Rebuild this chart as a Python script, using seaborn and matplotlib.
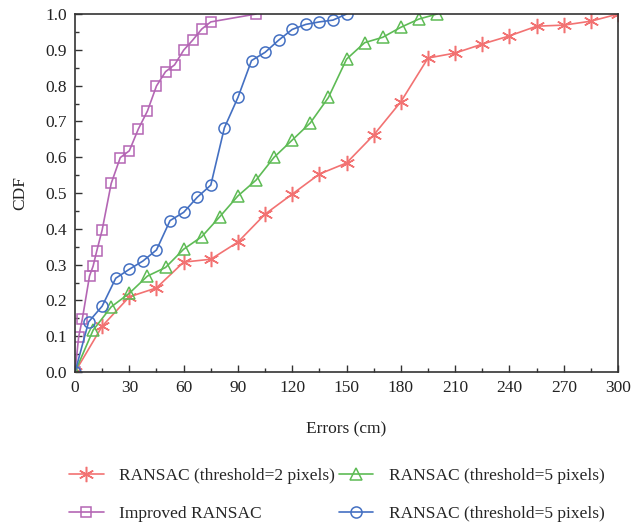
import numpy as np
import pandas as pd
import seaborn as sns
import matplotlib.pyplot as plt
from matplotlib.ticker import MultipleLocator

# data
x_t2 = [0, 15, 30, 45, 60, 75, 90, 105, 120, 135, 150, 165, 180, 195, 210, 225, 240, 255, 270, 285, 300]
cdf_t2 = [0, 0.128, 0.21, 0.235, 0.307, 0.315, 0.363, 0.441, 0.497, 0.553, 0.584, 0.662, 0.755, 0.877,
          0.891, 0.916, 0.939, 0.966, 0.969, 0.98, 1.0]

x_imp = [0, 2, 4, 8, 10, 12, 15, 20, 25, 30, 35, 40, 45, 50, 55, 60, 65, 70, 75, 100]
cdf_imp = [0, 0.098, 0.147, 0.268, 0.296, 0.338, 0.397, 0.527, 0.599, 0.618, 0.679, 0.729, 0.799, 0.839,
           0.858, 0.899, 0.927, 0.958, 0.978, 1.0]

x_t5 = [0, 10, 20, 30, 40, 50, 60, 70, 80, 90, 100, 110, 120, 130, 140, 150, 160, 170, 180, 190, 200]
cdf_t5 = [0, 0.117, 0.182, 0.22, 0.268, 0.292, 0.343, 0.378, 0.434, 0.492, 0.536, 0.6, 0.648, 0.696,
          0.767, 0.874, 0.92, 0.935, 0.963, 0.986, 1.0]

x_t5b = [0, 7.5, 15, 22.5, 30, 37.5, 45, 52.5, 60, 67.5, 75, 82.5, 90, 97.5, 105, 112.5, 120, 127.5,
         135, 142.5, 150]
cdf_t5b = [0, 0.14, 0.184, 0.262, 0.287, 0.31, 0.341, 0.423, 0.446, 0.488, 0.522, 0.682, 0.767, 0.87,
           0.893, 0.927, 0.957, 0.971, 0.978, 0.983, 1.0]

series = [
    ("RANSAC (threshold=2 pixels)", x_t2, cdf_t2, "#F27272", (6, 2, 0), 11),
    ("Improved RANSAC", x_imp, cdf_imp, "#B466B4", "s", 7.5),
    ("RANSAC (threshold=5 pixels)", x_t5, cdf_t5, "#5EBB55", "^", 9),
    ("RANSAC (threshold=5 pixels)", x_t5b, cdf_t5b, "#4470C2", "o", 8),
]

sns.set_theme(style="ticks")
plt.rcParams['font.family'] = ['Liberation Serif', 'DejaVu Serif']
plt.rcParams['font.size'] = 12

fig = plt.figure(figsize=(6.32, 5.25), dpi=100)
ax = fig.add_axes([0.1187, 0.2914, 0.8593, 0.6819])

for label, xs, ys, color, marker, ms in series:
    df = pd.DataFrame({"err": xs, "cdf": ys})
    sns.lineplot(data=df, x="err", y="cdf", ax=ax, color=color, marker=marker,
                 markersize=ms, markerfacecolor="none", markeredgecolor=color,
                 markeredgewidth=1.1, linewidth=1.2, label=label)

ax.set_xlim(0, 300)
ax.set_ylim(0, 1.0)
ax.xaxis.set_major_locator(MultipleLocator(30))
ax.xaxis.set_minor_locator(MultipleLocator(15))
ax.yaxis.set_major_locator(MultipleLocator(0.1))
ax.yaxis.set_minor_locator(MultipleLocator(0.05))
ax.set_yticklabels([f"{v:.1f}" for v in ax.get_yticks()])
ax.tick_params(which="both", direction="in", color="#333333", labelsize=12.5, labelcolor="#222222")
ax.tick_params(which="major", length=5, width=1.0, pad=6)
ax.tick_params(which="minor", length=3, width=1.0)
for sp in ax.spines.values():
    sp.set_visible(True)
    sp.set_color("#333333")
    sp.set_linewidth(1.2)

ax.set_xlabel("Errors (cm)", fontsize=12.5, color="#222222", labelpad=18)
ax.set_ylabel("CDF", fontsize=12.5, color="#222222", labelpad=12)

ax.legend(loc="upper left", bbox_to_anchor=(-0.04, -0.225), ncol=2, frameon=False,
          fontsize=12.5, handlelength=2.0, columnspacing=0.2, labelspacing=1.25,
          handletextpad=0.9)

fig.savefig("out.png", dpi=100)
